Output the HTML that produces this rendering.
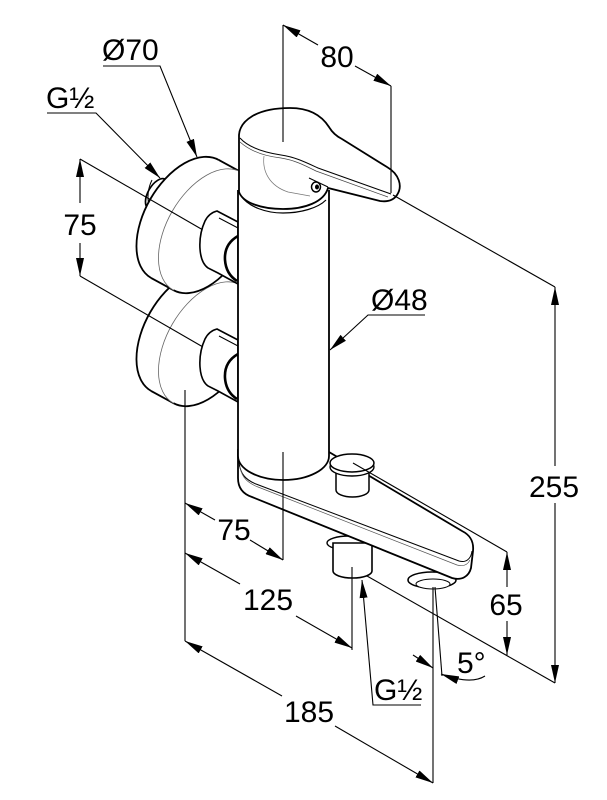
<!DOCTYPE html>
<html><head><meta charset="utf-8"><style>
html,body{margin:0;padding:0;background:#fff;}
svg{display:block;}
text{font-family:"Liberation Sans",Arial,sans-serif;font-size:30px;fill:#000;}
</style></head><body>
<svg width="607" height="800" viewBox="0 0 607 800" xmlns="http://www.w3.org/2000/svg">
<defs>
<marker id="ar" viewBox="0 0 18 8" refX="18" refY="4" markerWidth="18" markerHeight="8" markerUnits="userSpaceOnUse" orient="auto-start-reverse"><path d="M0,0 L18,4 L0,8 z" fill="#000"/></marker>
</defs>
<rect width="607" height="800" fill="#fff"/>

<!-- upper wall stub -->
<ellipse cx="157" cy="194" rx="9" ry="17" transform="rotate(30 157 194)" fill="#fff" stroke="#000" stroke-width="1.7"/>
<path d="M152,180 Q146,192 149,206" fill="none" stroke="#000" stroke-width="1"/>

<!-- lower rosette -->
<g transform="translate(0,113)">
<ellipse cx="185" cy="219" rx="40" ry="68" transform="rotate(30 185 219)" fill="#fff" stroke="#000" stroke-width="1.8"/>
<polygon points="151.5,278.2 218.5,159.8 240.5,171.8 173.5,290.2" fill="#fff"/>
<line x1="151.5" y1="278.2" x2="173.5" y2="290.2" stroke="#000" stroke-width="1.8"/>
<line x1="218.5" y1="159.8" x2="240.5" y2="171.8" stroke="#000" stroke-width="1.8"/>
<ellipse cx="207" cy="231" rx="40" ry="68" transform="rotate(30 207 231)" fill="#fff" stroke="#666" stroke-width="0.8"/>
<path d="M240.5,171.8 A40,68 30 0 1 173.5,290.2" fill="none" stroke="#000" stroke-width="1.8"/>
</g>

<!-- upper rosette -->
<g>
<ellipse cx="185" cy="219" rx="40" ry="68" transform="rotate(30 185 219)" fill="#fff" stroke="#000" stroke-width="1.8"/>
<polygon points="151.5,278.2 218.5,159.8 240.5,171.8 173.5,290.2" fill="#fff"/>
<line x1="151.5" y1="278.2" x2="173.5" y2="290.2" stroke="#000" stroke-width="1.8"/>
<line x1="218.5" y1="159.8" x2="240.5" y2="171.8" stroke="#000" stroke-width="1.8"/>
<ellipse cx="207" cy="231" rx="40" ry="68" transform="rotate(30 207 231)" fill="#fff" stroke="#666" stroke-width="0.8"/>
<path d="M240.5,171.8 A40,68 30 0 1 173.5,290.2" fill="none" stroke="#000" stroke-width="1.8"/>
</g>

<!-- pipe axis extension lines -->
<g stroke="#000" stroke-width="1.1">
<line x1="80" y1="159" x2="203" y2="230"/>
<line x1="80" y1="276" x2="203" y2="347"/>
</g>

<!-- nuts -->
<g stroke="#000" fill="#fff" stroke-width="1.6">
<path d="M238,222 L217,211 Q209,213 205,221 Q199,234 200,249 Q201,263 208,268 L218,273 L238,284 Z"/>
<path d="M238,228 L219,218" fill="none" stroke-width="1"/>
<path d="M238,236 Q224,244 225,260 Q226,274 237,281" fill="none" stroke-width="2.6"/>
</g>
<g stroke="#000" fill="#fff" stroke-width="1.6" transform="translate(0,118)">
<path d="M238,222 L217,211 Q209,213 205,221 Q199,234 200,249 Q201,263 208,268 L218,273 L238,284 Z"/>
<path d="M238,228 L219,218" fill="none" stroke-width="1"/>
<path d="M238,236 Q224,244 225,260 Q226,274 237,281" fill="none" stroke-width="2.6"/>
</g>

<!-- outlet stub under plate -->
<ellipse cx="349" cy="543" rx="22" ry="7" fill="#fff" stroke="#000" stroke-width="1.4"/>
<path d="M333,543 L333,571 A19.5,7 0 0 0 372,571 L372,543 Z" fill="#fff" stroke="#000" stroke-width="1.6"/>
<!-- right foot -->
<ellipse cx="432" cy="580" rx="24" ry="8" fill="#fff" stroke="#000" stroke-width="1.5"/>
<ellipse cx="433" cy="584" rx="17" ry="5" fill="#fff" stroke="#000" stroke-width="1"/>

<!-- base plate / spout -->
<path d="M238,450 L238,478 C238,488 243,494 252,497 L452,578 C462,581 469,576 471,568 L473,551 C474,541 470,535 462,531 L329,452 Z" fill="#fff" stroke="#000" stroke-width="1.8"/>
<path d="M239,462 C240,474 246,480 256,484 L459,561 C466,563 471,559 472,551" fill="none" stroke="#000" stroke-width="1"/>
<path d="M240,467 C242,478 248,483 258,487 L457,565 C464,567 468,564 470,560" fill="none" stroke="#555" stroke-width="0.7"/>

<!-- diverter knob -->
<path d="M336,470 L336,490 A16.5,7 0 0 0 369,490 L369,470 Z" fill="#fff" stroke="#000" stroke-width="1.5"/>
<ellipse cx="352" cy="467" rx="22" ry="9" fill="#fff" stroke="#000" stroke-width="1.4"/>
<ellipse cx="352" cy="463" rx="22" ry="9" fill="#fff" stroke="#000" stroke-width="1.5"/>

<!-- cylinder body -->
<path d="M238,190 L238,456 A45.5,24 0 0 0 329,456 L329,190 Z" fill="#fff"/>
<path d="M238,190 L238,456 A45.5,24 0 0 0 329,456 L329,190" fill="none" stroke="#000" stroke-width="1.8"/>

<!-- handle -->
<path d="M239,192 L239,135 C240,121 256,108 290,108 C310,108 322,116 329,127 C332,132 336,136 342,139 L387,167 C399,174 403,186 397,195 C393,201 387,202 380,201 L328,188 C324,202 305,209 283,209 C262,209 243,203 239,192 Z" fill="#fff" stroke="#000" stroke-width="1.8"/>
<path d="M241,196 C249,207 266,213 283,213 C301,213 318,208 326,200" fill="none" stroke="#000" stroke-width="1.2"/>
<path d="M240,138 C248,147 262,152 281,155 C295,157 305,162 318,168 L391,194" fill="none" stroke="#000" stroke-width="1"/>
<path d="M240,142 C249,150 263,156 281,158 C294,160 304,165 316,171 L388,197" fill="none" stroke="#444" stroke-width="0.7"/>
<path d="M264,156 C262,172 270,186 288,192 L310,196" fill="none" stroke="#777" stroke-width="0.7"/>
<path d="M328,187 L309,178" fill="none" stroke="#000" stroke-width="1"/>
<ellipse cx="316" cy="187" rx="4.5" ry="5" fill="#fff" stroke="#000" stroke-width="1.5"/>
<ellipse cx="317" cy="187" rx="2" ry="2.5" fill="#000"/>

<!-- dimension lines -->
<g stroke="#000" stroke-width="1.1" fill="none">
<!-- 80 -->
<line x1="283" y1="25" x2="283" y2="142"/>
<line x1="391" y1="86" x2="391" y2="193"/>
<line x1="318" y1="45" x2="283" y2="25" marker-end="url(#ar)"/>
<line x1="355" y1="66" x2="391" y2="86" marker-end="url(#ar)"/>
<!-- 255 -->
<line x1="393" y1="195" x2="555" y2="287"/>
<line x1="555" y1="466" x2="555" y2="287" marker-end="url(#ar)"/>
<line x1="555" y1="503" x2="555" y2="683" marker-end="url(#ar)"/>
<line x1="367" y1="576" x2="555" y2="683"/>
<!-- 65 -->
<line x1="353" y1="463" x2="507" y2="552"/>
<line x1="507" y1="587" x2="507" y2="552" marker-end="url(#ar)"/>
<line x1="507" y1="621" x2="507" y2="655" marker-end="url(#ar)"/>
<!-- left 75 -->
<line x1="80" y1="203" x2="80" y2="159" marker-end="url(#ar)"/>
<line x1="80" y1="243" x2="80" y2="276" marker-end="url(#ar)"/>
<!-- extension verticals -->
<line x1="283" y1="452" x2="283" y2="560"/>
<line x1="185" y1="390" x2="185" y2="641"/>
<line x1="352" y1="567" x2="352" y2="650"/>
<line x1="433" y1="587" x2="433" y2="783"/>
<line x1="435" y1="587" x2="442" y2="676"/>
<!-- bottom 75 -->
<line x1="215" y1="520" x2="185" y2="503" marker-end="url(#ar)"/>
<line x1="250" y1="540" x2="283" y2="560" marker-end="url(#ar)"/>
<!-- 125 -->
<line x1="240" y1="584" x2="185" y2="553" marker-end="url(#ar)"/>
<line x1="296" y1="616" x2="352" y2="648" marker-end="url(#ar)"/>
<!-- 185 -->
<line x1="282" y1="696" x2="185" y2="641" marker-end="url(#ar)"/>
<line x1="335" y1="726" x2="433" y2="783" marker-end="url(#ar)"/>
<!-- 5 deg -->
<line x1="413" y1="655" x2="433" y2="668" marker-end="url(#ar)"/>
<path d="M485,676 Q471,685 441,674" marker-end="url(#ar)"/>
<!-- leaders -->
<path d="M103,66 L160,66 L197,157" marker-end="url(#ar)"/>
<path d="M47,113 L96,113 L160,178" marker-end="url(#ar)"/>
<path d="M425,315 L368,315 L330,350" marker-end="url(#ar)"/>
<path d="M421,705 L373,705 L362,580" marker-end="url(#ar)"/>
</g>

<!-- labels -->
<text x="102" y="60">Ø70</text>
<text x="46" y="108">G½</text>
<text x="337" y="67" text-anchor="middle">80</text>
<text x="80" y="235" text-anchor="middle">75</text>
<text x="371" y="310">Ø48</text>
<text x="554" y="497" text-anchor="middle">255</text>
<text x="234" y="540" text-anchor="middle">75</text>
<text x="268" y="610" text-anchor="middle">125</text>
<text x="506" y="615" text-anchor="middle">65</text>
<text x="457" y="673">5°</text>
<text x="374" y="700">G½</text>
<text x="309" y="722" text-anchor="middle">185</text>
</svg>
</body></html>
